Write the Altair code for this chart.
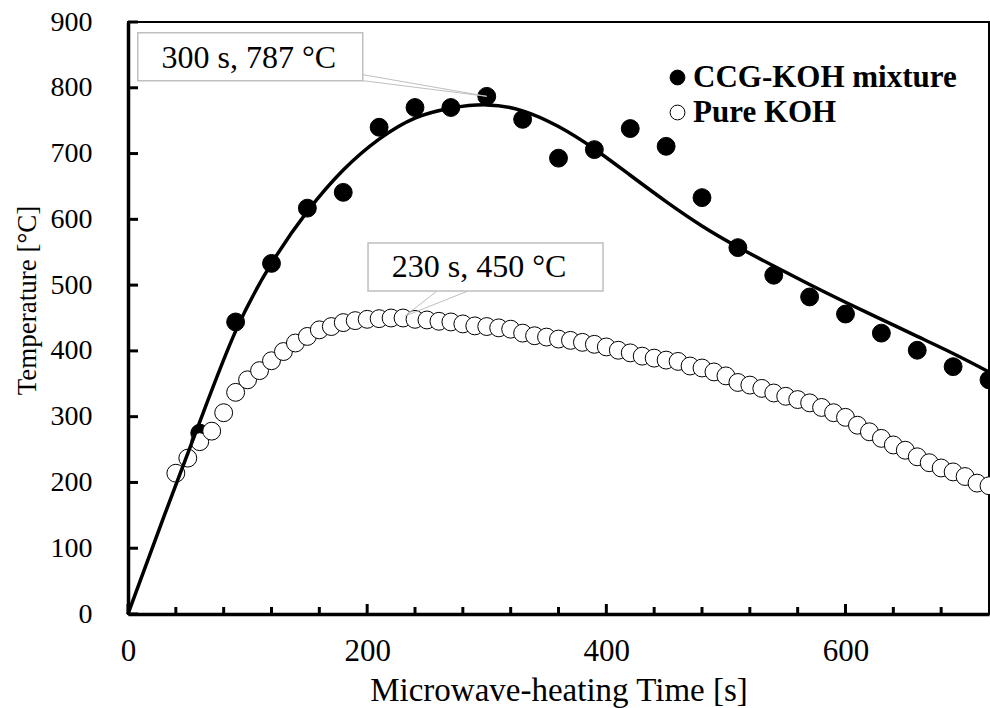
import altair as alt
import pandas as pd

SERIF = "Liberation Serif"

# CCG-KOH mixture, measured every 30 s
mix_time = [60, 90, 120, 150, 180, 210, 240, 270, 300, 330, 360, 390,
            420, 450, 480, 510, 540, 570, 600, 630, 660, 690, 720]
mix_temp = [275, 444, 533, 617, 641, 740, 770, 770, 787, 752, 693, 706,
            738, 711, 633, 557, 515, 482, 456, 427, 401, 376, 356]

# Pure KOH, measured every 10 s from 40 s
koh_time = list(range(40, 730, 10))
koh_temp = [214, 237, 262, 278, 306, 337, 356, 370, 385, 399,
            412, 422, 432, 437, 443, 446, 448, 449, 450, 450,
            448, 447, 445, 444, 441, 438, 437, 435, 433, 427,
            423, 421, 418, 416, 413, 410, 406, 401, 397, 392,
            389, 386, 384, 377, 374, 368, 362, 352, 348, 343,
            336, 331, 326, 321, 314, 306, 299, 287, 277, 267,
            257, 249, 239, 230, 222, 216, 209, 199, 195]

# Fitted trend through the mixture data
fit_time = [0, 30, 60, 90, 120, 150, 180, 210, 240, 270, 300, 330, 360,
            390, 420, 450, 480, 510, 540, 570, 600, 630, 660, 690, 720]
fit_temp = [0, 148, 292, 430, 533, 612, 675, 722, 754, 769, 774, 765, 741,
            707, 667, 627, 590, 558, 529, 501, 474, 448, 422, 396, 368]

series_names = ["CCG-KOH mixture", "Pure KOH"]

# Peak callouts
ann_time = [300, 230]
ann_temp = [787, 450]
ann_text = ["300 s, 787 °C", "230 s, 450 °C"]

# Axis ticks
x_major = [0, 200, 400, 600]
x_minor = [40, 80, 120, 160, 240, 280, 320, 360, 440, 480, 520, 560, 640, 680]
y_major = list(range(0, 901, 100))

PLOT_W, PLOT_H = 861, 592

points_df = pd.concat([
    pd.DataFrame({"t": mix_time, "temp": mix_temp, "series": series_names[0]}),
    pd.DataFrame({"t": koh_time, "temp": koh_temp, "series": series_names[1]}),
], ignore_index=True)
fit_df = pd.DataFrame({"t": fit_time, "temp": fit_temp})
ann_df = pd.DataFrame({"t": ann_time, "temp": ann_temp, "label": ann_text})

x_scale = alt.Scale(domain=[0, 720], nice=False, zero=False)
y_scale = alt.Scale(domain=[0, 900], nice=False)

x_axis = alt.Axis(
    values=x_major, format="d", title="Microwave-heating Time [s]",
    titleFont=SERIF, titleFontSize=33, titleFontWeight="normal", titleColor="black",
    titleBaseline="alphabetic", titleY=86,
    labelFont=SERIF, labelFontSize=31, labelColor="black", labelPadding=22,
    labelFlush=False, ticks=False, tickSize=0,
    domainColor="black", domainWidth=3.5, grid=False,
)
y_axis = alt.Axis(
    values=y_major, format="d", title="Temperature [°C]",
    titleFont=SERIF, titleFontSize=27, titleFontWeight="normal", titleColor="black",
    titleBaseline="middle", titleX=-101, titleY=278, titleAngle=270,
    labelFont=SERIF, labelFontSize=28, labelColor="black", labelPadding=36,
    ticks=False, tickSize=0,
    domainColor="black", domainWidth=3.5, grid=False,
)

# Every layer shares the same positional encodings, so the axes merge cleanly
X = alt.X("t:Q", scale=x_scale, axis=x_axis)
Y = alt.Y("temp:Q", scale=y_scale, axis=y_axis)

points = alt.Chart(points_df).mark_circle(
    size=320, opacity=1, stroke="black", strokeWidth=1
).encode(
    x=X, y=Y,
    fill=alt.Fill(
        "series:N",
        scale=alt.Scale(domain=series_names, range=["black", "white"]),
        legend=alt.Legend(
            title=None, orient="none", legendX=534, legendY=40,
            symbolType="circle", symbolSize=220, symbolStrokeColor="black",
            symbolStrokeWidth=1, symbolOpacity=1,
            labelFont=SERIF, labelFontSize=31, labelFontWeight="bold",
            labelColor="black", labelOffset=0, labelLimit=0,
            rowPadding=3, padding=0,
        ),
    ),
)

fit_line = alt.Chart(fit_df).mark_line(
    color="black", strokeWidth=3.5, interpolate="natural"
).encode(x=X, y=Y)

# Inward tick marks
x_ticks_major = alt.Chart(pd.DataFrame({"t": x_major})).mark_rule(
    color="black", strokeWidth=3
).encode(x=X, y=alt.value(PLOT_H), y2=alt.value(PLOT_H - 10))
x_ticks_minor = alt.Chart(pd.DataFrame({"t": x_minor})).mark_rule(
    color="black", strokeWidth=3
).encode(x=X, y=alt.value(PLOT_H), y2=alt.value(PLOT_H - 7))
y_ticks = alt.Chart(pd.DataFrame({"temp": y_major})).mark_rule(
    color="black", strokeWidth=3
).encode(y=Y, x=alt.value(0), x2=alt.value(10))


def callout(row, box, leaders, text_dx, text_dy):
    """Boxed label tied to one data point, laid out by pixel offsets."""
    base = alt.Chart(ann_df.iloc[[row]]).encode(x=X, y=Y)
    layers = []
    for (sx, sy, ex, ey) in leaders:
        layers.append(base.mark_rule(
            color="#BFBFBF", strokeWidth=1,
            xOffset=sx, yOffset=sy, x2Offset=ex, y2Offset=ey,
        ).encode(x2="t:Q", y2="temp:Q"))
    x0, x1, y0, y1 = box
    layers.append(base.mark_rect(
        fill="white", stroke="#BFBFBF", strokeWidth=1.5,
        xOffset=x0, x2Offset=x1, yOffset=y0, y2Offset=y1,
    ).encode(x2="t:Q", y2="temp:Q"))
    layers.append(base.mark_text(
        font=SERIF, fontSize=32, color="black", align="center",
        baseline="alphabetic", dx=text_dx, dy=text_dy,
    ).encode(text="label:N"))
    return layers


ann1 = callout(0, box=(-349, -124, -63.7, -15.7),
               leaders=[(0, 0, -124, -21.7), (0, 0, -124, -15.7)],
               text_dx=-238, text_dy=-28.4)
ann2 = callout(1, box=(-35, 200, -75, -27),
               leaders=[(2, -2, 34, -27), (2, -2, 65, -27)],
               text_dx=76, text_dy=-41.3)

chart = alt.layer(
    points, fit_line, x_ticks_major, x_ticks_minor, y_ticks, *ann1, *ann2
).properties(
    width=PLOT_W, height=PLOT_H,
    autosize=alt.AutoSizeParams(type="none"),
    padding={"left": 128, "top": 22, "right": 1, "bottom": 94},
    background="white",
).configure_view(
    stroke="black", strokeWidth=2
)

chart.save("out.html", embed_options={"renderer": "svg", "actions": False})
